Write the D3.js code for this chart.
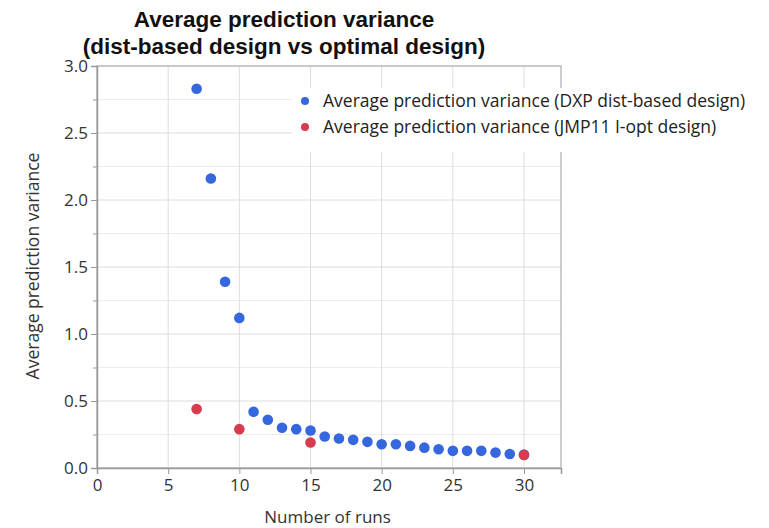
<!DOCTYPE html>
<html>
<head>
<meta charset="utf-8">
<script src="https://cdn.jsdelivr.net/npm/d3@7"></script>
<style>
  body { margin: 0; background: #fff; }
  text { font-family: "Open Sans", "DejaVu Sans", sans-serif; }
</style>
</head>
<body>
<div id="chart"></div>
<script>
// Data
var runsDxp = [7, 8, 9, 10, 11, 12, 13, 14, 15, 16, 17, 18, 19, 20, 21, 22, 23, 24, 25, 26, 27, 28, 29, 30];
var varDxp = [2.83, 2.16, 1.39, 1.12, 0.42, 0.36, 0.30, 0.29, 0.28, 0.235, 0.22, 0.21, 0.195, 0.177, 0.177, 0.165, 0.152, 0.14, 0.128, 0.128, 0.128, 0.115, 0.105, 0.10];
var runsJmp = [7, 10, 15, 30];
var varJmp = [0.44, 0.29, 0.19, 0.097];
var xTicks = [0, 5, 10, 15, 20, 25, 30];
var yTicks = [0, 0.5, 1.0, 1.5, 2.0, 2.5, 3.0];
var yMinor = [0.25, 0.75, 1.25, 1.75, 2.25, 2.75];
var legendLabels = ["Average prediction variance (DXP dist-based design)",
                    "Average prediction variance (JMP11 I-opt design)"];
var titleLines = ["Average prediction variance", "(dist-based design vs optimal design)"];

var width = 769, height = 528;
var margin = {top: 66, right: 208, bottom: 60, left: 97};
var plotW = width - margin.left - margin.right,
    plotH = height - margin.top - margin.bottom;

var blue = "#3567df", red = "#d83a4e";

var svg = d3.select("#chart").append("svg")
    .attr("width", width)
    .attr("height", height);

var x = d3.scaleLinear().domain([0, 32.6]).range([0, plotW]);
var y = d3.scaleLinear().domain([0, 3.0]).range([plotH, 0]);

var g = svg.append("g")
    .attr("transform", "translate(" + margin.left + "," + margin.top + ")");

// Grid lines
g.selectAll(".ygrid-minor").data(yMinor).enter().append("line")
    .attr("x1", 0).attr("x2", plotW)
    .attr("y1", function(d) { return y(d); }).attr("y2", function(d) { return y(d); })
    .attr("stroke", "#ececec").attr("stroke-width", 1);
g.selectAll(".ygrid").data(yTicks).enter().append("line")
    .attr("x1", 0).attr("x2", plotW)
    .attr("y1", function(d) { return y(d); }).attr("y2", function(d) { return y(d); })
    .attr("stroke", "#dcdcdc").attr("stroke-width", 1);
g.selectAll(".xgrid").data(xTicks).enter().append("line")
    .attr("y1", 0).attr("y2", plotH)
    .attr("x1", function(d) { return x(d); }).attr("x2", function(d) { return x(d); })
    .attr("stroke", "#dcdcdc").attr("stroke-width", 1);

// Frame (top and right)
g.append("rect")
    .attr("x", 0).attr("y", 0).attr("width", plotW).attr("height", plotH)
    .attr("fill", "none").attr("stroke", "#bdbdbd").attr("stroke-width", 1.5);

// Axes
g.append("g")
    .attr("transform", "translate(0," + plotH + ")")
    .call(d3.axisBottom(x).tickValues(xTicks).tickSize(6).tickPadding(5).tickFormat(d3.format("d")));
g.append("g")
    .call(d3.axisLeft(y).tickValues(yTicks).tickSize(6).tickPadding(3).tickFormat(d3.format(".1f")));
g.append("g")
    .call(d3.axisLeft(y).tickValues(yMinor).tickSize(4).tickFormat(""))
    .select(".domain").remove();

svg.selectAll(".tick line").attr("stroke", "#9a9a9a");
svg.selectAll(".domain").attr("stroke", "#9a9a9a").attr("stroke-width", 1.5);
svg.selectAll(".tick text")
    .style("font-size", "17px").attr("fill", "#333")
    .style("font-family", "'Open Sans', 'DejaVu Sans', sans-serif");

// Points
g.selectAll(".dxp").data(runsDxp).enter().append("circle")
    .attr("cx", function(d) { return x(d); })
    .attr("cy", function(d, i) { return y(varDxp[i]); })
    .attr("r", 5.3)
    .attr("fill", blue);
g.selectAll(".jmp").data(runsJmp).enter().append("circle")
    .attr("cx", function(d) { return x(d); })
    .attr("cy", function(d, i) { return y(varJmp[i]); })
    .attr("r", 5.3)
    .attr("fill", red);

// Legend with white background over the grid
var legend = svg.append("g").attr("transform", "translate(292,88)");
legend.append("rect")
    .attr("x", 0).attr("y", 0).attr("width", 477).attr("height", 64)
    .attr("fill", "#fff");
legendLabels.forEach(function(label, i) {
    var row = legend.append("g").attr("transform", "translate(0," + (13 + i * 26) + ")");
    row.append("circle").attr("cx", 13).attr("cy", 0).attr("r", 4)
        .attr("fill", i === 0 ? blue : red);
    row.append("text").attr("x", 31).attr("y", 6)
        .style("font-size", "17.5px").attr("fill", "#222")
        .text(label);
});

// Title (font with compact line box so the two lines do not collide)
svg.append("g").selectAll("text").data(titleLines).enter().append("text")
    .attr("x", 284)
    .attr("y", function(d, i) { return 27 + i * 27; })
    .attr("text-anchor", "middle")
    .style("font-family", "'Liberation Sans', Arial, sans-serif")
    .style("font-size", "22.5px").style("font-weight", "bold")
    .attr("fill", "#111")
    .text(function(d) { return d; });

// Axis titles
svg.append("text")
    .attr("x", margin.left + x(16.2))
    .attr("y", 523)
    .attr("text-anchor", "middle")
    .style("font-size", "17px").attr("fill", "#333")
    .text("Number of runs");
svg.append("text")
    .attr("transform", "translate(39," + (margin.top + y(1.5) - 1) + ") rotate(-90)")
    .attr("text-anchor", "middle")
    .style("font-size", "17.5px").attr("fill", "#333")
    .text("Average prediction variance");
</script>
</body>
</html>
